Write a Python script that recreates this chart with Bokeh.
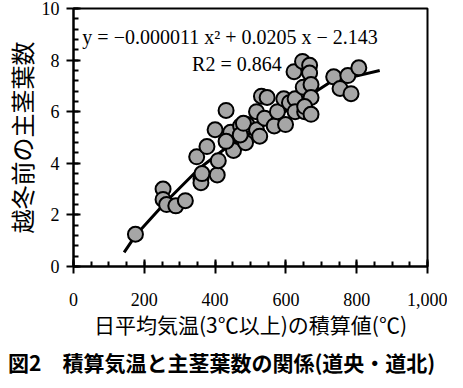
from bokeh.plotting import figure
from bokeh.models import Range1d, Label, SingleIntervalTicker, Div
from bokeh.layouts import column
from bokeh.embed import file_html
from bokeh.resources import INLINE

# observed points (accumulated temperature, main stem leaf number)
x_obs = [175, 253, 253, 263, 289, 316, 348, 360, 360, 363, 377, 406, 409, 400,
         431, 444, 452, 431, 486, 472, 490, 471, 480, 517, 517, 526, 531, 547,
         540, 567, 576, 594, 599, 610, 626, 626, 623, 647, 667, 667, 649, 671,
         671, 653, 653, 671, 735, 775, 753, 784, 806]
y_obs = [1.25, 3.0, 2.6, 2.4, 2.35, 2.55, 4.25, 3.4, 3.25, 3.6, 4.65, 3.55, 4.1, 5.3,
         6.05, 5.2, 4.5, 4.85, 4.8, 5.45, 5.5, 5.1, 5.55, 6.0, 5.3, 5.05, 6.6, 6.55,
         5.75, 5.45, 6.0, 6.5, 5.5, 6.35, 6.5, 6.0, 7.55, 7.95, 7.8, 7.5, 6.95, 7.05,
         6.55, 6.0, 6.2, 5.9, 7.35, 7.4, 6.9, 6.7, 7.7]

# fitted curve
curve_x = [143, 175, 264, 355, 436, 517, 608, 653, 726, 789, 865]
curve_y = [0.55, 1.2, 2.55, 3.8, 4.65, 5.3, 6.1, 6.5, 7.15, 7.35, 7.6]

x_ticks = [0, 200, 400, 600, 800, 1000]
x_tick_labels = ["0", "200", "400", "600", "800", "1,000"]
y_ticks = [0, 2, 4, 6, 8, 10]

equation_text = "y = \u22120.000011 x\u00b2 + 0.0205 x \u2212 2.143"
r2_text = "R2 = 0.864"
x_label = "日平均気温(3℃以上)の積算値(℃)"
y_label = "越冬前の主茎葉数"
title_text = "図2　積算気温と主茎葉数の関係(道央・道北)"

SERIF = "Liberation Serif"
CJK = "Noto Sans CJK JP"

p = figure(width=447, height=344, output_backend="svg", toolbar_location=None,
           x_range=Range1d(x_ticks[0], x_ticks[-1]), y_range=Range1d(y_ticks[0], y_ticks[-1]),
           min_border_left=30, min_border_right=20, min_border_top=8, min_border_bottom=78)

p.xgrid.visible = False
p.ygrid.visible = False
p.outline_line_color = "black"
p.outline_line_width = 2
p.background_fill_color = "white"
p.border_fill_color = "white"

p.xaxis.ticker = SingleIntervalTicker(interval=200, num_minor_ticks=4)
p.yaxis.ticker = SingleIntervalTicker(interval=2, num_minor_ticks=5)
p.xaxis.major_label_overrides = {t: l for t, l in zip(x_ticks, x_tick_labels)}

for ax in (p.xaxis[0], p.yaxis[0]):
    ax.axis_line_color = "black"
    ax.axis_line_width = 2
    ax.major_tick_line_color = "black"
    ax.major_tick_line_width = 2
    ax.minor_tick_line_color = "black"
    ax.minor_tick_line_width = 2
    ax.major_tick_in = 7
    ax.major_tick_out = 7
    ax.minor_tick_in = 5
    ax.minor_tick_out = 0
    ax.major_label_text_font = SERIF
    ax.major_label_text_font_size = "18px"
    ax.major_label_text_color = "black"
    ax.axis_label_text_font = CJK
    ax.axis_label_text_font_style = "normal"
    ax.axis_label_text_color = "black"

p.xaxis.major_label_standoff = 19
p.xaxis.axis_label = x_label
p.xaxis.axis_label_text_font_size = "21px"
p.xaxis.axis_label_standoff = 0

p.yaxis.major_label_standoff = 7
p.yaxis.axis_label = y_label
p.yaxis.axis_label_text_font_size = "24px"
p.yaxis.axis_label_standoff = 0

p.line(curve_x, curve_y, line_width=3, line_color="black")
p.scatter(x_obs, y_obs, size=15, marker="circle", fill_color="#a6a6a6",
          line_color="black", line_width=2)

p.add_layout(Label(x=25, y=8.9, text=equation_text, text_align="left", text_baseline="middle",
                   text_font=SERIF, text_font_size="20px", text_color="black"))
p.add_layout(Label(x=335, y=7.85, text=r2_text, text_align="left", text_baseline="middle",
                   text_font=SERIF, text_font_size="20px", text_color="black"))

caption_html = ('<div style="padding-left:8px;padding-top:7px;white-space:nowrap;'
                'line-height:22px;">' + title_text + '</div>')
caption = Div(text=caption_html, width=447, height=36, margin=(0, 0, 0, 0),
              styles={"font-family": CJK, "font-size": "21px", "font-weight": "bold",
                      "color": "black"})

layout = column(p, caption, spacing=0)

open("out.html", "w").write(file_html(layout, INLINE))
